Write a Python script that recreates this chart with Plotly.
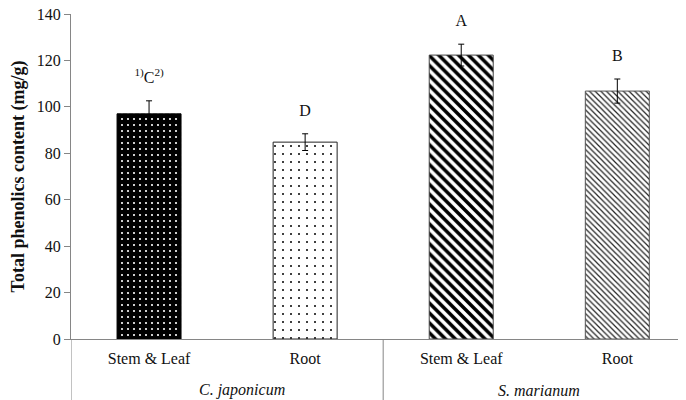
import plotly.graph_objects as go

# ---- data ----
species = ["C. japonicum", "C. japonicum", "S. marianum", "S. marianum"]
parts = ["Stem & Leaf", "Root", "Stem & Leaf", "Root"]
phenolics = [97.0, 84.8, 122.3, 106.8]
errors = [5.6, 3.6, 4.7, 5.2]
letters = ["<sup>1)</sup>C<sup>2)</sup>", "D", "A", "B"]
y_ticks = [0, 20, 40, 60, 80, 100, 120, 140]

# ---- styles ----
pat_shapes = [".", ".", "\\", "\\"]
pat_bg = ["black", "white", "white", "white"]
pat_fg = ["white", "black", "black", "#222222"]
pat_size = [6, 8, 7, 4]
pat_solid = [0.1, 0.05, 0.5, 0.3]
outline = ["black", "#222222", "#444444", "#555555"]
group_xshift = {"C. japonicum": 15, "S. marianum": 0}

FONT = "Liberation Serif, Times New Roman, serif"
AXIS = "#868686"
TXT = "#111111"
LABEL_PAD = 9.5
PLOT_H = 325          # plot area height in px
BOTTOM = 61           # bottom margin in px

idx = list(range(len(parts)))

fig = go.Figure()
for i in idx:
    fig.add_trace(go.Bar(
        x=[i],
        y=[phenolics[i]],
        width=0.41,
        marker=dict(
            color=pat_bg[i],
            line=dict(color=outline[i], width=1),
            pattern=dict(shape=pat_shapes[i], bgcolor=pat_bg[i], fgcolor=pat_fg[i],
                         size=pat_size[i], solidity=pat_solid[i], fillmode="replace"),
        ),
        error_y=dict(type="data", array=[errors[i]], visible=True,
                     color="black", thickness=1, width=3),
        showlegend=False,
        hoverinfo="skip",
    ))

fig.add_trace(go.Scatter(
    x=idx,
    y=[v + e + LABEL_PAD for v, e in zip(phenolics, errors)],
    mode="text",
    text=letters,
    textposition="middle center",
    textfont=dict(family=FONT, size=16, color=TXT),
    showlegend=False,
    hoverinfo="skip",
    cliponaxis=False,
))

# group labels and dividers below the axis
groups = []
for s in species:
    if s not in groups:
        groups.append(s)
bounds = []
for g in groups:
    members = [i for i in idx if species[i] == g]
    fig.add_annotation(
        x=sum(members) / len(members), xref="x",
        y=-51 / PLOT_H, yref="paper", yanchor="middle",
        text=f"<i>{g}</i>", showarrow=False, xshift=group_xshift[g],
        font=dict(family=FONT, size=16, color=TXT),
    )
    bounds.append(min(members) - 0.5)
for b in bounds:
    fig.add_shape(type="line", xref="x", yref="paper",
                  x0=b, x1=b, y0=0, y1=-BOTTOM / PLOT_H,
                  line=dict(color=AXIS, width=1))

# the page body adds an 8px offset, so the figure is 8px smaller
fig.update_layout(
    width=678, height=392,
    margin=dict(l=63, r=0, t=6, b=BOTTOM),
    paper_bgcolor="white", plot_bgcolor="white",
    font=dict(family=FONT, size=16, color=TXT),
    barmode="overlay",
)
fig.update_xaxes(
    range=[-0.5, 3.44],
    tickvals=idx, ticktext=parts,
    showline=True, linecolor=AXIS, linewidth=1,
    ticks="", showgrid=False, zeroline=False,
    automargin=False, ticklabelstandoff=5,
    tickfont=dict(family=FONT, size=16, color=TXT),
)
fig.update_yaxes(
    range=[0, 140],
    tickvals=y_ticks,
    showline=True, linecolor=AXIS, linewidth=1,
    ticks="outside", ticklen=6, tickcolor=AXIS,
    showgrid=False, zeroline=False, automargin=False,
    ticklabeloverflow="allow",
    tickfont=dict(family=FONT, size=16, color=TXT),
    title=dict(text="<b>Total phenolics content (mg/g)</b>",
               font=dict(family=FONT, size=18, color=TXT), standoff=11),
)

fig.write_html("out.html")
